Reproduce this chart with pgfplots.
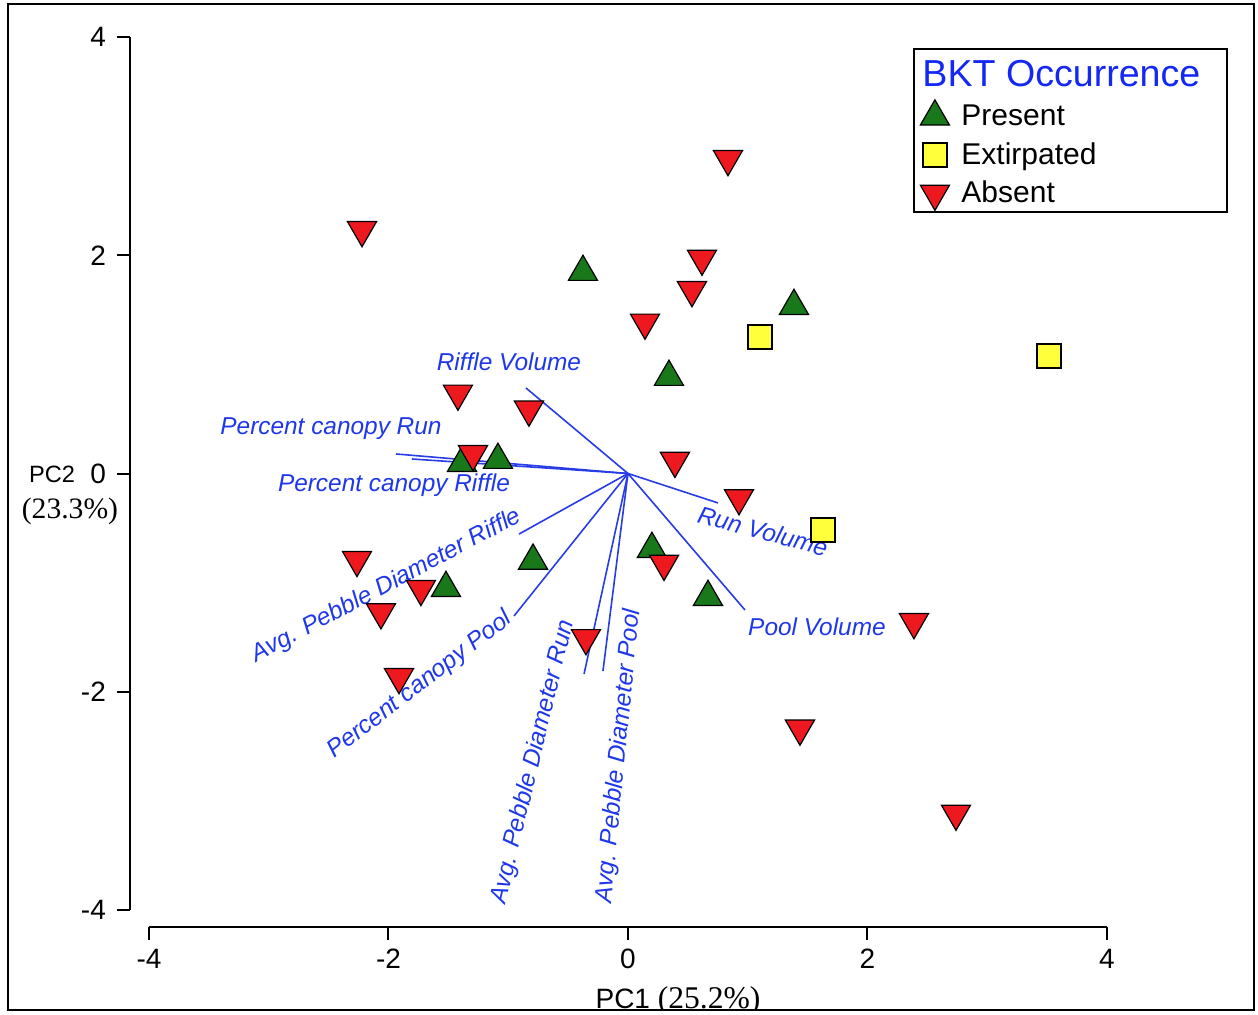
\documentclass[border=0pt]{standalone}
\usepackage{fontspec}
\setmainfont{Liberation Sans}
\newfontfamily\timesfont{Liberation Serif}
\usepackage{pgfplots}
\pgfplotsset{compat=1.18}
\definecolor{vblue}{RGB}{40,60,230}
\definecolor{tblue}{RGB}{30,55,235}
\definecolor{lblue}{RGB}{20,40,245}
\definecolor{pgreen}{RGB}{25,120,25}
\definecolor{ared}{RGB}{238,25,30}
\definecolor{eyellow}{RGB}{255,255,60}
\tikzset{lab/.style={text=tblue, font=\fontsize{12.2}{14}\selectfont\itshape, inner sep=0pt}}
\begin{document}
\begin{tikzpicture}
\begin{axis}[
  x=59.875pt, y=54.55pt,
  xmin=-4.159, xmax=5.194, ymin=-4.157, ymax=4.267,
  clip=false,
  axis x line*=bottom, axis y line*=left,
  axis line style={draw=none},
  xtick={-4,-2,0,2,4}, ytick={-4,-2,0,2,4},
  xticklabels={-4,-2,0,2,4}, yticklabels={-4,-2,0,2,4},
  tick align=outside,
  major tick length=6.5pt,
  tick style={black, line width=1pt},
  ticklabel style={font=\fontsize{14}{16}\selectfont},
  xticklabel style={yshift=-1pt},
  yticklabel style={xshift=-2pt},
  legend style={at={(0.6991,0.9565)}, anchor=north west, draw=black, line width=0.9pt,
    font=\fontsize{15}{18}\selectfont, inner xsep=2pt, inner ysep=1pt, row sep=3pt, column sep=4pt},
  legend cell align=left,
]
\addlegendimage{empty legend}
\addlegendentry{\kern-19.5pt\rule{0pt}{16pt}\textcolor{lblue}{\fontsize{18.8}{21}\selectfont BKT Occurrence}\kern9.5pt}

\addplot[only marks, mark=triangle*, mark size=8.4pt, mark options={fill=pgreen, draw=black, line width=0.6pt}]
 coordinates {(-0.376,1.847) (1.386,1.535) (0.342,0.885) (-1.386,0.096) (-1.086,0.124)
 (-0.793,-0.800) (-1.520,-1.050) (0.200,-0.692) (0.668,-1.132)};
\addlegendentry{Present}

\addplot[only marks, mark=square*, mark size=6pt, mark options={fill=eyellow, draw=black, line width=0.7pt}]
 coordinates {(1.102,1.251) (3.516,1.077) (1.628,-0.518)};
\addlegendentry{Extirpated}

\addplot[only marks, mark=triangle*, mark size=8.4pt, mark options={fill=ared, draw=black, line width=0.6pt, rotate=180}]
 coordinates {(0.835,2.883) (-2.221,2.232) (0.618,1.970) (0.534,1.682) (0.142,1.384)
 (-1.420,0.733) (-0.827,0.587) (-1.294,0.179) (0.392,0.117) (0.927,-0.225)
 (-2.263,-0.791) (-1.729,-1.057) (-2.063,-1.271) (-1.912,-1.865) (-0.351,-1.508)
 (0.301,-0.827) (2.388,-1.361) (1.436,-2.337) (2.739,-3.117)};
\addlegendentry{Absent}

% loading vectors
\addplot[vblue, line width=0.8pt, forget plot] coordinates {(0,0) (-0.852,0.784)};
\addplot[vblue, line width=0.8pt, forget plot] coordinates {(0,0) (-1.937,0.179)};
\addplot[vblue, line width=0.8pt, forget plot] coordinates {(0,0) (-1.804,0.133)};
\addplot[vblue, line width=0.8pt, forget plot] coordinates {(0,0) (-0.910,-0.555)};
\addplot[vblue, line width=0.8pt, forget plot] coordinates {(0,0) (-0.952,-1.306)};
\addplot[vblue, line width=0.8pt, forget plot] coordinates {(0,0) (-0.367,-1.838)};
\addplot[vblue, line width=0.8pt, forget plot] coordinates {(0,0) (-0.209,-1.810)};
\addplot[vblue, line width=0.8pt, forget plot] coordinates {(0,0) (0.752,-0.270)};
\addplot[vblue, line width=0.8pt, forget plot] coordinates {(0,0) (0.977,-1.251)};

\node[lab] at (axis cs:-0.994,1.022) {Riffle Volume};
\node[lab] at (axis cs:-2.480,0.408) {Percent canopy Run};
\node[lab] at (axis cs:-1.954,-0.105) {Percent canopy Riffle};
\node[lab, rotate=28] at (axis cs:-2.013,-1.031) {Avg. Pebble Diameter Riffle};
\node[lab, rotate=37.5] at (axis cs:-1.737,-1.939) {Percent canopy Pool};
\node[lab, rotate=76.5] at (axis cs:-0.790,-2.644) {Avg. Pebble Diameter Run};
\node[lab, rotate=84.5] at (axis cs:-0.074,-2.589) {Avg. Pebble Diameter Pool};
\node[lab, rotate=-15] at (axis cs:1.127,-0.527) {Run Volume};
\node[lab] at (axis cs:1.578,-1.407) {Pool Volume};

% R-style detached axis lines
\draw[line width=1pt] (axis cs:-4,-4.157) -- (axis cs:4,-4.157);
\draw[line width=1pt] (axis cs:-4.159,-4) -- (axis cs:-4.159,4);

\node[font=\fontsize{11.8}{13}\selectfont] at (axis cs:-4.810,-0.004) {PC2};
\node[font=\timesfont\fontsize{14.8}{17}\selectfont] at (axis cs:-4.660,-0.344) {(23.3\%)};

\coordinate (fTL) at (axis cs:-5.177,4.303);
\coordinate (fBR) at (axis cs:5.228,-4.918);
\coordinate (bTL) at (axis cs:-5.244,4.340);
\coordinate (bBR) at (axis cs:5.261,-4.954);
\coordinate (pcone) at (axis cs:0.418,-4.908);
\end{axis}
\begin{scope}
\clip (fTL) rectangle (fBR);
\node[anchor=base, inner sep=0pt, font=\fontsize{14}{16}\selectfont] at (pcone) {PC1 {\timesfont\fontsize{15.8}{18}\selectfont (25.2\%)}};
\end{scope}
\draw[line width=1.3pt] (fTL) rectangle (fBR);
\path (bTL) rectangle (bBR);
\end{tikzpicture}
\end{document}
